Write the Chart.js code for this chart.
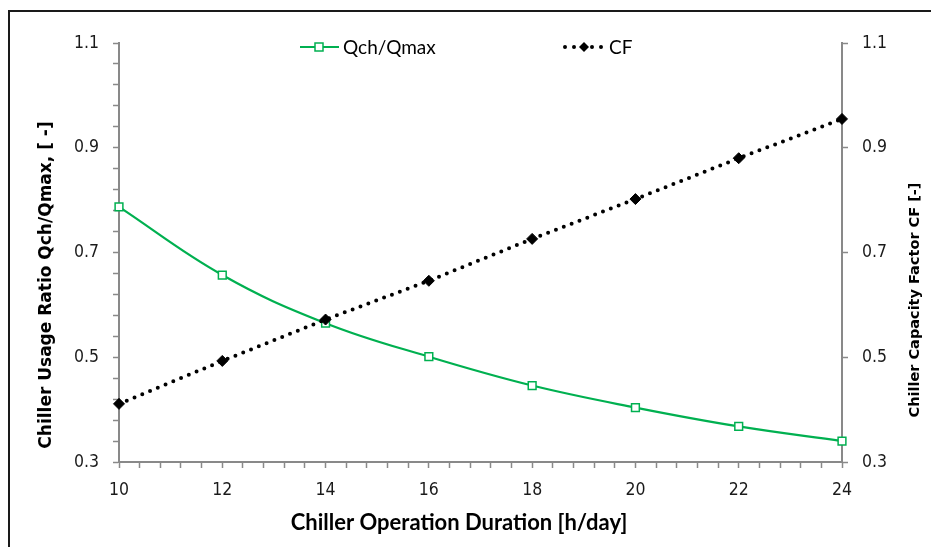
<!DOCTYPE html>
<html>
<head>
<meta charset="utf-8">
<script src="https://cdn.jsdelivr.net/npm/chart.js@4.4.3/dist/chart.umd.min.js"></script>
<style>
  html, body { margin: 0; padding: 0; background: #fff; }
  canvas { display: block; }
</style>
</head>
<body>
<canvas id="chart" width="931" height="547"></canvas>
<script>
// values
const hours = [10, 12, 14, 16, 18, 20, 22, 24];
const usageRatio = [0.787, 0.657, 0.565, 0.501, 0.446, 0.404, 0.368, 0.340];
const capacityFactor = [0.411, 0.493, 0.572, 0.646, 0.726, 0.802, 0.880, 0.955];

const xTicks = [10, 12, 14, 16, 18, 20, 22, 24];
const yTicks = [0.3, 0.5, 0.7, 0.9, 1.1];

const xTitle = 'Chiller Operation Duration [h/day]';
const yTitle = 'Chiller Usage Ratio Qch/Qmax, [ -]';
const y2Title = 'Chiller Capacity Factor CF [-]';
const labels = ['Qch/Qmax', 'CF'];

const GREEN = '#00B050';
const AXIS = '#898989';
const tickFont = { family: "'DejaVu Sans Condensed', 'DejaVu Sans'", size: 17.5 };

// major ticks plus n-1 minor ticks between each pair
function withMinor(majors, n) {
  const out = [];
  for (let i = 0; i < majors.length - 1; i++) {
    for (let k = 0; k < n; k++) {
      out.push(+(majors[i] + (majors[i + 1] - majors[i]) * k / n).toFixed(4));
    }
  }
  out.push(majors[majors.length - 1]);
  return out;
}

const isMajor = (list, v) => list.some((t) => Math.abs(t - v) < 1e-6);

function axisGrid() {
  return {
    display: true,
    drawOnChartArea: false,
    drawTicks: true,
    tickLength: 6,
    tickColor: AXIS,
    tickWidth: 1.5,
  };
}

const overlay = {
  id: 'overlay',
  afterDraw(chart) {
    const ctx = chart.ctx;
    ctx.save();

    // outer frame, runs off the right and bottom edges
    ctx.strokeStyle = '#1a1a1a';
    ctx.lineWidth = 2;
    ctx.strokeRect(9, 11, 960, 580);

    // axis titles
    ctx.fillStyle = '#000';
    ctx.textAlign = 'center';
    ctx.textBaseline = 'alphabetic';
    ctx.font = 'bold 22px Lato';
    ctx.fillText(xTitle, 459, 530);

    ctx.save();
    ctx.translate(51, 285);
    ctx.rotate(-Math.PI / 2);
    ctx.font = 'bold 17px "DejaVu Sans"';
    ctx.fillText(yTitle, 0, 0);
    ctx.restore();

    ctx.save();
    ctx.translate(919, 300);
    ctx.rotate(-Math.PI / 2);
    ctx.font = 'bold 14.5px "DejaVu Sans"';
    ctx.fillText(y2Title, 0, 0);
    ctx.restore();

    // legend
    const ly = 47;
    ctx.textAlign = 'left';
    ctx.textBaseline = 'middle';
    ctx.font = '19px Lato';

    ctx.strokeStyle = GREEN;
    ctx.lineWidth = 2;
    ctx.beginPath();
    ctx.moveTo(300, ly);
    ctx.lineTo(339, ly);
    ctx.stroke();
    ctx.fillStyle = '#fff';
    ctx.lineWidth = 1.5;
    ctx.fillRect(315, ly - 4, 8, 8);
    ctx.strokeRect(315, ly - 4, 8, 8);
    ctx.fillStyle = '#000';
    ctx.fillText(labels[0], 343, ly + 1);

    ctx.strokeStyle = '#000';
    ctx.lineWidth = 4;
    ctx.lineCap = 'round';
    ctx.setLineDash([0, 9]);
    ctx.beginPath();
    ctx.moveTo(565, ly);
    ctx.lineTo(602, ly);
    ctx.stroke();
    ctx.setLineDash([]);
    ctx.beginPath();
    ctx.moveTo(584, ly - 5);
    ctx.lineTo(589, ly);
    ctx.lineTo(584, ly + 5);
    ctx.lineTo(579, ly);
    ctx.closePath();
    ctx.fill();
    ctx.fillText(labels[1], 609, ly + 1);

    ctx.restore();
  },
};

new Chart(document.getElementById('chart'), {
  type: 'line',
  data: {
    datasets: [
      {
        label: labels[1],
        data: hours.map((h, i) => ({ x: h, y: capacityFactor[i] })),
        yAxisID: 'y2',
        order: 0,
        borderColor: '#000',
        borderWidth: 4,
        borderDash: [0, 8.4],
        borderCapStyle: 'round',
        tension: 0,
        pointStyle: 'rectRot',
        pointRadius: 5.5,
        pointBackgroundColor: '#000',
        pointBorderColor: '#000',
        pointBorderWidth: 1,
        clip: false,
      },
      {
        label: labels[0],
        data: hours.map((h, i) => ({ x: h, y: usageRatio[i] })),
        yAxisID: 'y',
        order: 1,
        borderColor: GREEN,
        borderWidth: 2.25,
        tension: 0.4,
        pointStyle: 'rect',
        pointRadius: 5.5,
        pointBackgroundColor: '#fff',
        pointBorderColor: GREEN,
        pointBorderWidth: 1.5,
        clip: false,
      },
    ],
  },
  options: {
    responsive: false,
    devicePixelRatio: 1,
    animation: false,
    layout: { padding: { top: 43, left: 0, right: 0, bottom: 0 } },
    plugins: {
      legend: { display: false },
      tooltip: { enabled: false },
    },
    scales: {
      x: {
        type: 'linear',
        min: 10,
        max: 24,
        grid: axisGrid(),
        border: { display: true, color: AXIS, width: 2 },
        afterBuildTicks: (scale) => {
          scale.ticks = withMinor(xTicks, 5).map((value) => ({ value }));
        },
        afterFit: (scale) => { scale.height = 85; },
        ticks: {
          autoSkip: false,
          maxRotation: 0,
          padding: 12,
          color: '#1a1a1a',
          font: tickFont,
          callback: (v) => (isMajor(xTicks, v) ? String(Math.round(v)) : ''),
        },
      },
      y: {
        type: 'linear',
        position: 'left',
        min: 0.3,
        max: 1.1,
        grid: axisGrid(),
        border: { display: true, color: AXIS, width: 2 },
        afterBuildTicks: (scale) => {
          scale.ticks = withMinor(yTicks, 5).map((value) => ({ value }));
        },
        afterFit: (scale) => { scale.width = 119; },
        ticks: {
          autoSkip: false,
          padding: 14,
          color: '#1a1a1a',
          font: tickFont,
          callback: (v) => (isMajor(yTicks, v) ? v.toFixed(1) : ''),
        },
      },
      y2: {
        type: 'linear',
        position: 'right',
        min: 0.3,
        max: 1.1,
        grid: axisGrid(),
        border: { display: true, color: AXIS, width: 2 },
        afterBuildTicks: (scale) => {
          scale.ticks = yTicks.map((value) => ({ value }));
        },
        afterFit: (scale) => { scale.width = 89; },
        ticks: {
          autoSkip: false,
          padding: 14,
          color: '#1a1a1a',
          font: tickFont,
          callback: (v) => v.toFixed(1),
        },
      },
    },
  },
  plugins: [overlay],
});
</script>
</body>
</html>
